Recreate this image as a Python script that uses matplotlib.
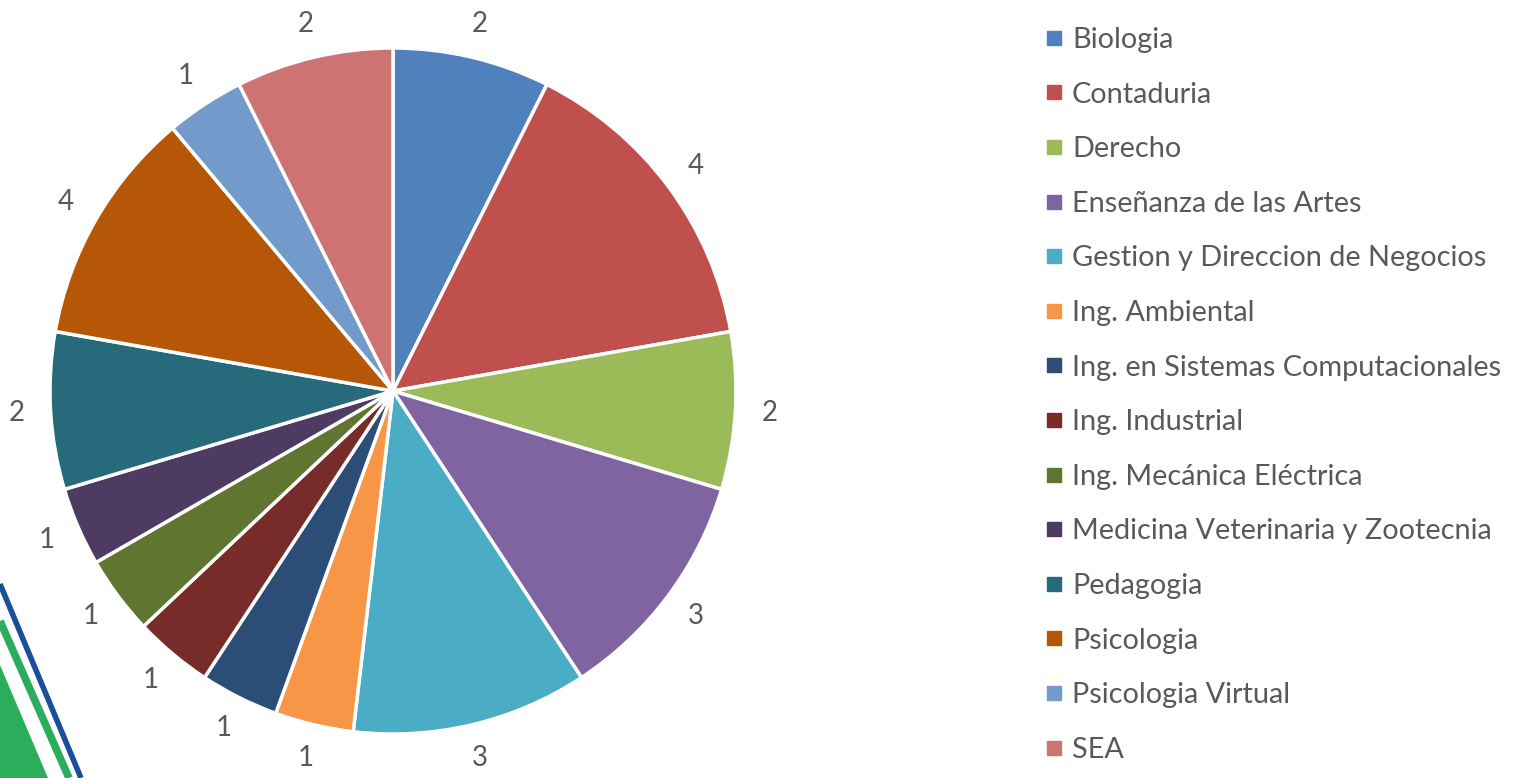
import matplotlib.pyplot as plt
from matplotlib.lines import Line2D

# Data
careers = ['Biologia', 'Contaduria', 'Derecho', 'Enseñanza de las Artes',
           'Gestion y Direccion de Negocios', 'Ing. Ambiental',
           'Ing. en Sistemas Computacionales', 'Ing. Industrial',
           'Ing. Mecánica Eléctrica', 'Medicina Veterinaria y Zootecnia',
           'Pedagogia', 'Psicologia', 'Psicologia Virtual', 'SEA']
counts = [2, 4, 2, 3, 3, 1, 1, 1, 1, 1, 2, 3, 1, 2]
# data labels as printed on the chart
count_labels = ['2', '4', '2', '3', '3', '1', '1', '1', '1', '1', '2', '4', '1', '2']
colors = ['#4F81BD', '#C0504D', '#9BBB59', '#8064A2', '#4BACC6', '#F79646',
          '#2C4D75', '#772C2A', '#5F7530', '#4D3B62', '#276A7C', '#B65708',
          '#729ACA', '#CD7371']

text_color = '#595959'
plt.rcParams['font.family'] = ['Lato', 'DejaVu Sans']

W, H = 1517, 778
fig = plt.figure(figsize=(W / 100, H / 100), dpi=100)

# decorative stripes, bottom left corner (pixel coords)
deco = fig.add_axes([0, 0, 1, 1])
deco.set_xlim(0, W)
deco.set_ylim(H, 0)
deco.axis('off')
deco.fill([0, 48, 0], [665, 778, 778], color='#2BAE5B', lw=0)
deco.plot([0, 69], [621, 778], color='#2BAE5B', lw=5.5, solid_capstyle='butt')
deco.plot([0, 81], [584, 778], color='#1B4F9C', lw=4, solid_capstyle='butt')

# pie
cx, cy, r = 393, 387, 343
box = 800
ax = fig.add_axes([(cx - box / 2) / W, (cy - box / 2) / H, box / W, box / H])
wedges, texts = ax.pie(counts, labels=count_labels, colors=colors, startangle=90,
                       counterclock=False, labeldistance=1.10,
                       wedgeprops=dict(edgecolor='white', linewidth=2.5),
                       textprops=dict(fontsize=20, color=text_color))
for t in texts:
    t.set_ha('center')
    t.set_va('center')
lim = box / 2 / r
ax.set_xlim(-lim, lim)
ax.set_ylim(-lim, lim)
ax.set_aspect('equal')

handles = [Line2D([], [], marker='s', ls='', color=c, markersize=10) for c in colors]
fig.legend(handles, careers, loc='upper left', bbox_to_anchor=(1046 / W, 1 - 27 / H),
           frameon=False, fontsize=20.8, labelcolor=text_color, handlelength=0.55,
           handletextpad=0.35, labelspacing=0.99, borderpad=0, borderaxespad=0)

fig.savefig('out.png', dpi=100)
